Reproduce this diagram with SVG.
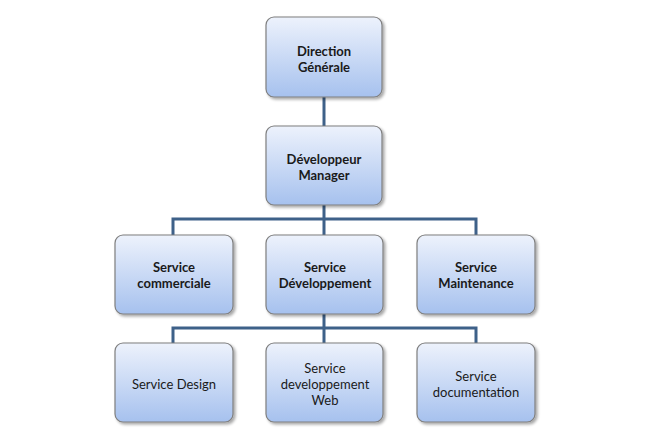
<svg xmlns="http://www.w3.org/2000/svg" width="647" height="444" viewBox="0 0 647 444">
<defs>
<linearGradient id="g" x1="0" y1="0" x2="0" y2="1">
<stop offset="0" stop-color="#EDF2FC"/>
<stop offset="1" stop-color="#A6C1EE"/>
</linearGradient>
<filter id="sh" x="-10%" y="-10%" width="125%" height="130%">
<feGaussianBlur in="SourceAlpha" stdDeviation="1.5"/>
<feOffset dx="1.5" dy="2" result="b"/>
<feComponentTransfer><feFuncA type="linear" slope="0.35"/></feComponentTransfer>
<feMerge><feMergeNode/><feMergeNode in="SourceGraphic"/></feMerge>
</filter>
</defs>
<style>
.box{fill:url(#g);stroke:#7F7F7F;stroke-width:1.2;filter:url(#sh)}
.t{font-family:Lato,"Open Sans",sans-serif;font-size:13px;fill:#1A1A1A;text-anchor:middle}
.b{font-weight:bold}
.c{fill:none;stroke:#3E6189;stroke-width:3}
</style>
<rect width="647" height="444" fill="#FFFFFF"/>
<g id="connectors">
<path class="c" d="M324 97V127"/>
<path class="c" d="M324 205V219M173 235V219H476V235M324 219V235"/>
<path class="c" d="M324 314V328M173 343V328H476V343M324 328V343"/>
</g>
<g id="n1"><rect class="box" x="266" y="17" width="116" height="80" rx="8"/>
<text class="t b" x="324" y="56">Direction</text><text class="t b" x="324" y="72">Générale</text></g>
<g id="n2"><rect class="box" x="266" y="126" width="116" height="79" rx="8"/>
<text class="t b" x="324" y="164">Développeur</text><text class="t b" x="324" y="180">Manager</text></g>
<g id="n3"><rect class="box" x="115" y="235" width="118" height="79" rx="8"/>
<text class="t b" x="174" y="272">Service</text><text class="t b" x="174" y="288">commerciale</text></g>
<g id="n4"><rect class="box" x="266" y="235" width="117" height="79" rx="8"/>
<text class="t b" x="325" y="272">Service</text><text class="t b" x="325" y="288">Développement</text></g>
<g id="n5"><rect class="box" x="417" y="235" width="118" height="79" rx="8"/>
<text class="t b" x="476" y="272">Service</text><text class="t b" x="476" y="288">Maintenance</text></g>
<g id="n6"><rect class="box" x="115" y="343" width="118" height="79" rx="8"/>
<text class="t" x="174" y="389">Service Design</text></g>
<g id="n7"><rect class="box" x="266" y="343" width="117" height="79" rx="8"/>
<text class="t" x="325" y="373">Service</text><text class="t" x="325" y="389">developpement</text><text class="t" x="325" y="405">Web</text></g>
<g id="n8"><rect class="box" x="417" y="343" width="118" height="79" rx="8"/>
<text class="t" x="476" y="381">Service</text><text class="t" x="476" y="397">documentation</text></g>
</svg>
